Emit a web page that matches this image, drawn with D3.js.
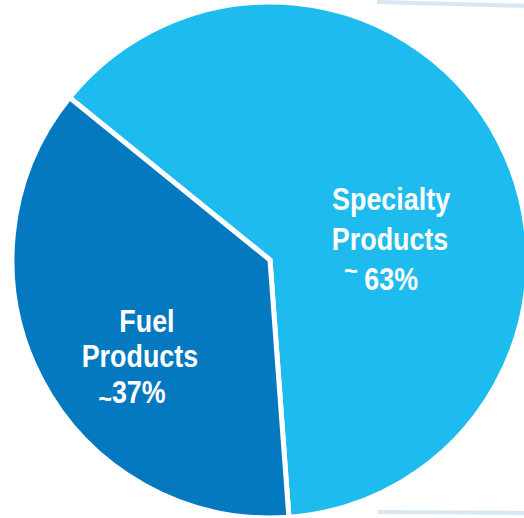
<!DOCTYPE html>
<html>
<head>
<meta charset="utf-8">
<script src="https://cdn.jsdelivr.net/npm/d3@7"></script>
<style>
  html, body { margin: 0; padding: 0; background: #fff; }
  svg { display: block; }
</style>
</head>
<body>
<div id="chart"></div>
<script>
// Data
const categories = ['Specialty Products', 'Fuel Products'];
const shares = [63, 37];
const nameLines = [['Specialty', 'Products'], ['Fuel', 'Products']];
const shareLabels = ['63%', '37%'];

const width = 524;
const height = 518;
const cx = 270, cy = 260;
const radius = 258;

const colors = d3.scaleOrdinal()
    .domain(categories)
    .range(['#1ebbee', '#0579c0']);

const svg = d3.select('#chart')
    .append('svg')
    .attr('width', width)
    .attr('height', height);

// faint frame edges behind the pie
const frame = svg.append('g')
    .attr('stroke', '#d3e5f2')
    .attr('stroke-width', 4)
    .attr('opacity', 0.9);
frame.append('line').attr('x1', 377).attr('y1', 2).attr('x2', 530).attr('y2', 6);
frame.append('line').attr('x1', 378).attr('y1', 512).attr('x2', 530).attr('y2', 513);

const startAngle = -51 * Math.PI / 180;

const pie = d3.pie()
    .sort(null)
    .startAngle(startAngle)
    .endAngle(startAngle + 2 * Math.PI)
    .value(d => d);

const arc = d3.arc()
    .innerRadius(0)
    .outerRadius(radius);

const labelArc = d3.arc()
    .innerRadius(140)
    .outerRadius(140);

const g = svg.append('g')
    .attr('transform', `translate(${cx}, ${cy})`);

const slices = g.selectAll('.slice')
    .data(pie(shares))
    .enter()
    .append('g')
    .attr('class', 'slice');

slices.append('path')
    .attr('d', arc)
    .attr('fill', (d, i) => colors(categories[i]))
    .attr('stroke', '#fff')
    .attr('stroke-width', 5)
    .attr('stroke-linejoin', 'miter');

// label layout tweaks (relative to centroid)
const nudge = [
    { lineDx: [-3, -4], dy: 15, lead: 40, pctDx: -13, tildeDy: -10, gap: ' ' },
    { lineDx: [1, -6], dy: 7, lead: 35.5, pctDx: -14, tildeDy: 5, gap: '' }
];

const font = '"Liberation Sans", Arial, sans-serif';
const squeeze = 0.84; // the original face is a narrow bold

slices.each(function(d, i) {
    const [x, y] = labelArc.centroid(d);
    const n = nudge[i];
    const sel = d3.select(this);
    const lines = nameLines[i];

    lines.forEach((line, k) => {
        sel.append('text')
            .attr('transform', `translate(${x + n.lineDx[k]}, ${y + n.dy + k * n.lead}) scale(${squeeze}, 1)`)
            .attr('text-anchor', 'middle')
            .attr('fill', '#fff')
            .attr('font-family', font)
            .attr('font-weight', 'bold')
            .attr('font-size', 32)
            .text(line);
    });

    const pct = sel.append('text')
        .attr('transform', `translate(${x + n.pctDx}, ${y + n.dy + lines.length * n.lead}) scale(${squeeze}, 1)`)
        .attr('text-anchor', 'middle')
        .attr('fill', '#fff')
        .attr('font-family', font)
        .attr('font-weight', 'bold')
        .attr('font-size', 32);
    pct.append('tspan')
        .attr('font-size', 28)
        .attr('dy', n.tildeDy)
        .text('~' + n.gap);
    pct.append('tspan')
        .attr('dy', -n.tildeDy)
        .text(shareLabels[i]);
});
</script>
</body>
</html>
